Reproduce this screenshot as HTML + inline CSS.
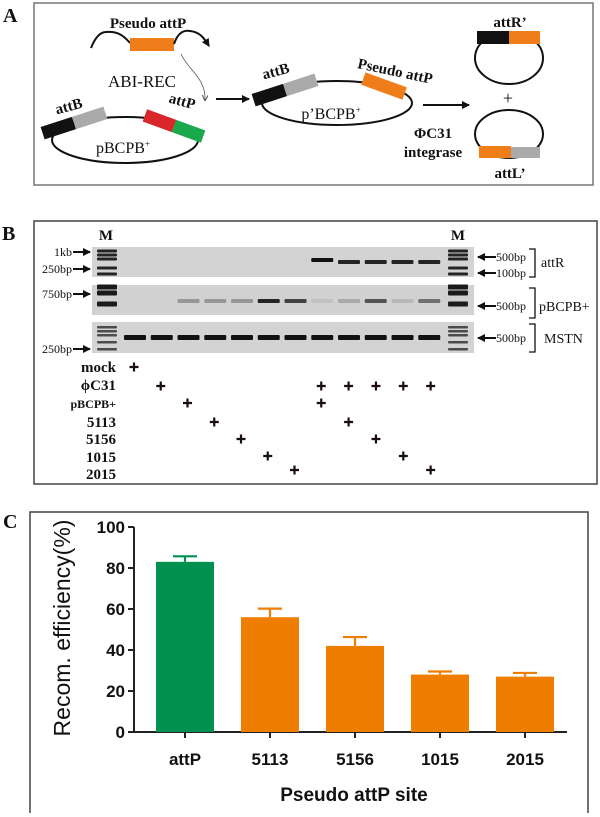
<!DOCTYPE html>
<html><head><meta charset="utf-8"><style>
html,body{margin:0;padding:0;background:#fff;}
svg{display:block;}
.ser{font-family:"Liberation Serif",serif;font-weight:bold;fill:#111;}
.sans{font-family:"Liberation Sans",sans-serif;font-weight:bold;fill:#111;}
</style></head><body>
<svg id="fig" width="600" height="817" viewBox="0 0 600 817" xmlns="http://www.w3.org/2000/svg">
<defs>
<marker id="ah" markerWidth="8" markerHeight="8" refX="7" refY="4" orient="auto" markerUnits="userSpaceOnUse"><path d="M0,0 L8,4 L0,8 z" fill="#111"/></marker>
<marker id="ahs" markerWidth="6" markerHeight="6" refX="5" refY="3" orient="auto" markerUnits="userSpaceOnUse"><path d="M0,0 L6,3 L0,6" fill="none" stroke="#555" stroke-width="1"/></marker>
</defs>

<!-- Panel A -->
<g>
<text class="ser" x="3" y="22" font-size="20">A</text>
<rect x="34" y="3" width="559" height="182" fill="none" stroke="#777" stroke-width="1.5"/>
<text class="ser" x="148" y="28" font-size="15" text-anchor="middle">Pseudo attP</text>
<path d="M91,48 C95,38 100,32 106,32 C118,31 124,36 130,43" fill="none" stroke="#111" stroke-width="2"/>
<rect x="130" y="38" width="44" height="13" fill="#ee7d1a"/>
<path d="M174,44 C178,32 184,30 190,31 C200,32 204,38 209,46" fill="none" stroke="#111" stroke-width="2" marker-end="url(#ah)"/>
<path d="M181,54 C188,70 206,78 205,100" fill="none" stroke="#555" stroke-width="0.8" marker-end="url(#ahs)"/>
<text class="ser" x="142" y="87" font-size="17" text-anchor="middle" style="font-weight:normal">ABI-REC</text>
<ellipse cx="125" cy="140" rx="73" ry="23" fill="none" stroke="#111" stroke-width="2"/>
<g transform="translate(74,123) rotate(-18)"><rect x="-33" y="-6.5" width="33" height="13" fill="#111"/><rect x="0" y="-6.5" width="33" height="13" fill="#aaa"/></g>
<g transform="translate(174,126) rotate(20)"><rect x="-31" y="-6.5" width="31" height="13" fill="#d9262a"/><rect x="0" y="-6.5" width="31" height="13" fill="#1aa84c"/></g>
<text class="ser" x="69" y="111" font-size="15" text-anchor="middle" transform="rotate(-15 69 107)">attB</text>
<text class="ser" x="182" y="106" font-size="15" text-anchor="middle" transform="rotate(15 182 102)">attP</text>
<text class="ser" x="123" y="153" font-size="16" text-anchor="middle" style="font-weight:normal">pBCPB<tspan font-size="9" dy="-6">+</tspan></text>
<line x1="216" y1="99" x2="249" y2="99" stroke="#111" stroke-width="2" marker-end="url(#ah)"/>
<ellipse cx="337" cy="103" rx="75" ry="22" fill="none" stroke="#111" stroke-width="2"/>
<g transform="translate(285,90) rotate(-18)"><rect x="-33" y="-6.5" width="33" height="13" fill="#111"/><rect x="0" y="-6.5" width="33" height="13" fill="#aaa"/></g>
<g transform="translate(384,86) rotate(20)"><rect x="-22" y="-6.5" width="44" height="13" fill="#ee7d1a"/></g>
<text class="ser" x="276" y="76" font-size="15" text-anchor="middle" transform="rotate(-15 276 72)">attB</text>
<text class="ser" x="395" y="76" font-size="15" text-anchor="middle" transform="rotate(12 395 72)">Pseudo attP</text>
<text class="ser" x="331" y="119" font-size="16" text-anchor="middle" style="font-weight:normal">p’BCPB<tspan font-size="9" dy="-6">+</tspan></text>
<line x1="423" y1="105" x2="469" y2="105" stroke="#111" stroke-width="2" marker-end="url(#ah)"/>
<text class="ser" x="433" y="138" font-size="15" text-anchor="middle">ΦC31</text>
<text class="ser" x="433" y="157" font-size="15" text-anchor="middle">integrase</text>
<text class="ser" x="510" y="27" font-size="15" text-anchor="middle">attR’</text>
<ellipse cx="509" cy="58" rx="34" ry="26" fill="none" stroke="#111" stroke-width="2"/>
<rect x="477" y="31" width="32" height="13" fill="#111"/><rect x="509" y="31" width="31" height="13" fill="#ee7d1a"/>
<text class="ser" x="508" y="104" font-size="18" text-anchor="middle" style="font-weight:normal">+</text>
<ellipse cx="509" cy="134" rx="34" ry="24" fill="none" stroke="#111" stroke-width="2"/>
<rect x="479" y="146" width="32" height="12" fill="#ee7d1a"/><rect x="511" y="147" width="29" height="11" fill="#aaa"/>
<text class="ser" x="510" y="178" font-size="15" text-anchor="middle">attL’</text>
</g>

<!-- Panel B -->
<g id="panelB">
<text class="ser" x="2" y="240" font-size="20">B</text>
<rect x="34" y="221" width="563" height="263" fill="none" stroke="#444" stroke-width="1.5"/>
<text class="ser" x="106" y="240" font-size="15" text-anchor="middle">M</text>
<text class="ser" x="458" y="240" font-size="15" text-anchor="middle">M</text>
<rect x="92" y="247" width="382" height="30" fill="#d3d3d3"/>
<rect x="92" y="285" width="382" height="30" fill="#d1d1d1"/>
<rect x="92" y="322" width="382" height="31" fill="#d3d3d3"/>
<g class="ser" font-size="12" style="font-weight:normal">
<text x="72" y="256" text-anchor="end">1kb</text>
<text x="72" y="273" text-anchor="end">250bp</text>
<text x="72" y="298" text-anchor="end">750bp</text>
<text x="72" y="353" text-anchor="end">250bp</text>
<text x="496" y="261">500bp</text>
<text x="496" y="277">100bp</text>
<text x="496" y="310">500bp</text>
<text x="496" y="342">500bp</text>
</g>
<g stroke="#111" stroke-width="2">
<line x1="73" y1="252" x2="90" y2="252" marker-end="url(#ah)"/>
<line x1="73" y1="269" x2="90" y2="269" marker-end="url(#ah)"/>
<line x1="73" y1="294" x2="90" y2="294" marker-end="url(#ah)"/>
<line x1="73" y1="349" x2="90" y2="349" marker-end="url(#ah)"/>
<line x1="496" y1="257" x2="478" y2="257" marker-end="url(#ah)"/>
<line x1="496" y1="273" x2="478" y2="273" marker-end="url(#ah)"/>
<line x1="496" y1="306" x2="478" y2="306" marker-end="url(#ah)"/>
<line x1="496" y1="338" x2="478" y2="338" marker-end="url(#ah)"/>
</g>
<g fill="none" stroke="#111" stroke-width="1.3">
<path d="M529,249 H535 V277 H529"/>
<path d="M529,288 H535 V318 H529"/>
<path d="M529,324 H535 V352 H529"/>
</g>
<text class="ser" x="541" y="267" font-size="14" style="font-weight:normal">attR</text>
<text class="ser" x="539" y="311" font-size="14" style="font-weight:normal">pBCPB+</text>
<text class="ser" x="544" y="343" font-size="14" style="font-weight:normal">MSTN</text>
<g class="ser" font-size="15" text-anchor="end">
<text x="116" y="372">mock</text>
<text x="116" y="390">ϕC31</text>
<text x="116" y="408" font-size="12">pBCPB+</text>
<text x="116" y="427">5113</text>
<text x="116" y="444">5156</text>
<text x="116" y="462">1015</text>
<text x="116" y="479">2015</text>
</g>
<g id="plusG"></g>
<g id="bandG"></g>
</g>

<!-- Panel C -->
<g>
<text class="ser" x="3" y="528" font-size="20">C</text>
<path d="M30,813 V512 H588 V813" fill="none" stroke="#444" stroke-width="1.5"/>
<g id="chartC"></g>
<text class="sans" x="354" y="801" font-size="19" text-anchor="middle">Pseudo attP site</text>
<text x="0" y="0" font-size="23" text-anchor="middle" transform="translate(70,628) rotate(-90)" style="font-family:'Liberation Sans',sans-serif;fill:#111">Recom. efficiency(%)</text>
</g>
</svg>
<script>
const NS='http://www.w3.org/2000/svg';
const categories=['attP','5113','5156','1015','2015'];
const means=[83,56,42,28,27];
const errors=[2.7,4.2,4.3,1.5,1.8];
const yTicks=[0,20,40,60,80,100];
const barColors=['#009050','#ee7d00','#ee7d00','#ee7d00','#ee7d00'];
const plusRows=[[0],[1,7,8,9,10,11],[2,7],[3,8],[4,9],[5,10],[6,11]];
const gelAttR=[0,0,0,0,0,0,0,1,0.9,0.9,0.9,0.9];
const gelPbcpb=[0,0,0.3,0.3,0.3,0.9,0.75,0.08,0.2,0.65,0.12,0.5];
const gelMstn=[1,1,1,1,1,1,1,1,1,1,1,1];

function mk(tag,attrs,parent){const e=document.createElementNS(NS,tag);for(const k in attrs)e.setAttribute(k,attrs[k]);parent.appendChild(e);return e;}
const laneX=i=>135+i*26.75;
const plusRowY=[367,386,403,422,439,456,470];
const plusG=document.getElementById('plusG');
plusRows.forEach((row,r)=>row.forEach(l=>{
  const x=laneX(l)-1+(l>=7?(l-7)*0.6:0), y=plusRowY[r];
  const p=mk('path',{d:`M${x-4.5},${y} H${x+4.5} M${x},${y-4.5} V${y+4.5}`,stroke:'#1a0e0e','stroke-width':2.2,fill:'none'},plusG);
  
  
}));
const bandG=document.getElementById('bandG');
function band(x,y,w,h,a){const r=mk('rect',{x:x,y:y,width:w,height:h,fill:'#111','fill-opacity':a,rx:1},bandG);}
gelAttR.forEach((a,i)=>{if(a>0)band(laneX(i)-11,i===7?258:260,22,4,a);});
gelPbcpb.forEach((a,i)=>{if(a>0)band(laneX(i)-11,299,22,4,a);});
gelMstn.forEach((a,i)=>{if(a>0)band(laneX(i)-11,335,22,5,a);});
[97,448].forEach(lx=>{
  [251,255,259,268,274].forEach(y=>band(lx,y-1.5,20,3,0.9));
  [287,293,304].forEach(y=>band(lx,y-2.5,20,5,0.95));
  [327,331,335,342,349].forEach(y=>band(lx,y-1,20,2.5,0.7));
});
const g=document.getElementById('chartC');
const y0=732,y100=527,xL=134,xR=567;
const yS=v=>y0-(y0-y100)*v/100;
const xC=i=>185+i*85;
const bw=58;
mk('line',{x1:xL,y1:y100,x2:xL,y2:y0,stroke:'#222','stroke-width':2},g);
mk('line',{x1:xL,y1:y0,x2:xR,y2:y0,stroke:'#222','stroke-width':2},g);
yTicks.forEach(v=>{
  mk('line',{x1:xL-6,y1:yS(v),x2:xL,y2:yS(v),stroke:'#222','stroke-width':2},g);
  const t=mk('text',{x:xL-9,y:yS(v)+6,'font-size':17,'text-anchor':'end',class:'sans'},g);
  
  
  t.textContent=v;
});
categories.forEach((c,i)=>{
  const x=xC(i);
  const r=mk('rect',{x:x-bw/2,y:yS(means[i]),width:bw,height:y0-yS(means[i]),fill:barColors[i]},g);
  
  
  const top=yS(means[i]+errors[i]);
  const e=mk('path',{d:`M${x},${yS(means[i])} V${top} M${x-12},${top} H${x+12}`,stroke:barColors[i],'stroke-width':2.2,fill:'none'},g);
  
  
  mk('line',{x1:x,y1:y0,x2:x,y2:y0+6,stroke:'#222','stroke-width':2},g);
  const t=mk('text',{x:x,y:765,'font-size':17,'text-anchor':'middle',class:'sans'},g);
  
  
  t.textContent=c;
});
</script>
</body></html>
